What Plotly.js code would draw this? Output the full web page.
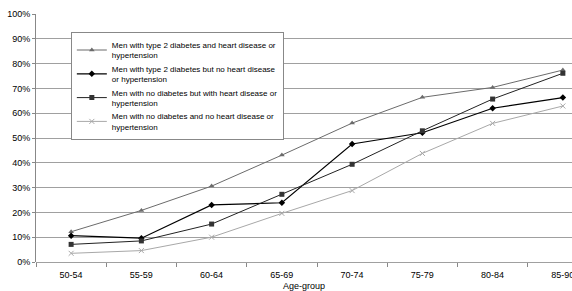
<!DOCTYPE html>
<html>
<head>
<meta charset="utf-8">
<script src="https://cdn.plot.ly/plotly-3.0.1.min.js"></script>
<style>html,body{margin:0;padding:0;background:#fff;}#chart{width:572px;height:291px;}</style>
</head>
<body>
<div id="chart"></div>
<script>
var ageGroups = ["50-54","55-59","60-64","65-69","70-74","75-79","80-84","85-90"];
var seriesNames = [
  "Men with type 2 diabetes and heart disease or<br>hypertension",
  "Men with type 2 diabetes but no heart disease<br>or hypertension",
  "Men with no diabetes but with heart disease or<br>hypertension",
  "Men with no diabetes and no heart disease or<br>hypertension"
];
var diabHeart   = [12.2, 20.8, 30.6, 43.1, 56.0, 66.4, 70.4, 77.4];
var diabNoHeart = [10.6, 9.6, 23.0, 23.9, 47.6, 52.1, 62.0, 66.3];
var noDiabHeart = [7.1, 8.5, 15.3, 27.3, 39.4, 52.9, 65.7, 76.1];
var noDiabNo    = [3.5, 4.6, 10.0, 19.6, 28.8, 43.8, 55.9, 62.9];

var font = "Liberation Sans, Arial, sans-serif";
var traces = [
  {x: ageGroups, y: diabHeart, name: seriesNames[0], type: "scatter", mode: "lines+markers",
   line: {color: "#6b6b6b", width: 1}, marker: {symbol: "triangle-up", size: 5, color: "#6b6b6b"}},
  {x: ageGroups, y: diabNoHeart, name: seriesNames[1], type: "scatter", mode: "lines+markers",
   line: {color: "#000000", width: 1.2}, marker: {symbol: "diamond", size: 5, color: "#000000"}},
  {x: ageGroups, y: noDiabHeart, name: seriesNames[2], type: "scatter", mode: "lines+markers",
   line: {color: "#222222", width: 1}, marker: {symbol: "square", size: 5, color: "#333333"}},
  {x: ageGroups, y: noDiabNo, name: seriesNames[3], type: "scatter", mode: "lines+markers",
   line: {color: "#a8a8a8", width: 1}, marker: {symbol: "x-thin", size: 5, color: "#a8a8a8", line: {color: "#a8a8a8", width: 1}}}
];
var layout = {
  width: 572, height: 291,
  margin: {l: 36, r: 0, t: 14, b: 29, pad: 0},
  paper_bgcolor: "#ffffff", plot_bgcolor: "#ffffff",
  font: {family: font, size: 9, color: "#000"},
  showlegend: true,
  legend: {x: 0.065, y: 0.927, xanchor: "left", yanchor: "top", bgcolor: "#ffffff",
           bordercolor: "#888888", borderwidth: 1, font: {family: font, size: 8, color: "#000"},
           tracegroupgap: 0, itemwidth: 30},
  xaxis: {type: "category", range: [-0.5, 7.13], showgrid: false, showline: false, zeroline: false,
          ticks: "outside", tickson: "boundaries", ticklen: 4, tickcolor: "#888",
          ticklabelstandoff: 6,
          tickfont: {family: font, size: 9}, automargin: false,
          title: {text: "Age-group", font: {family: font, size: 9}, standoff: 4}},
  yaxis: {range: [0, 100], dtick: 10, ticksuffix: "%", showgrid: true, gridcolor: "#a0a0a0", gridwidth: 1,
          showline: true, linecolor: "#888", linewidth: 1, zeroline: true, zerolinecolor: "#a0a0a0",
          ticks: "outside", ticklen: 3, tickcolor: "#888", tickfont: {family: font, size: 9}, automargin: false}
};
Plotly.newPlot("chart", traces, layout, {displayModeBar: false, staticPlot: true});
</script>
</body>
</html>
